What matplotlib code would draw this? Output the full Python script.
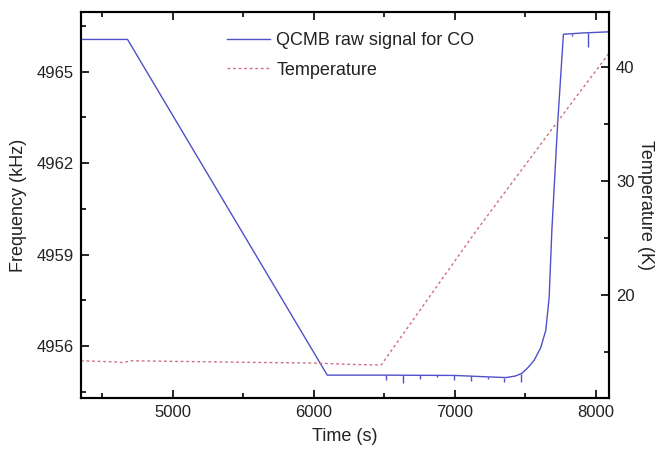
import numpy as np
import matplotlib.pyplot as plt
from matplotlib.ticker import MultipleLocator

plt.rcParams['font.family'] = ['Liberation Sans', 'DejaVu Sans']

# QCMB frequency trace (kHz) vs time (s)
freq_time = [4351, 4681, 6097, 6500, 7000, 7200, 7364, 7430, 7477, 7520,
             7564, 7610, 7646, 7670, 7689, 7730, 7771, 7900, 8094]
freq_khz = [4966.06, 4966.06, 4955.05, 4955.05, 4955.04, 4955.00, 4954.97,
            4955.02, 4955.11, 4955.30, 4955.54, 4955.95, 4956.52, 4957.60,
            4959.80, 4963.30, 4966.23, 4966.27, 4966.31]

# short downward glitches in the raw signal
spike_time = [6514, 6636, 6754, 6875, 6992, 7115, 7233, 7351, 7469, 7835, 7948]
spike_top = [4955.05, 4955.05, 4955.05, 4955.05, 4955.04, 4955.02, 4954.99,
             4954.97, 4955.09, 4966.25, 4966.27]
spike_bottom = [4954.89, 4954.79, 4954.92, 4954.98, 4954.88, 4954.86, 4954.92,
                4954.81, 4954.83, 4966.18, 4965.82]

# temperature ramp (K)
temp_time = [4351, 4600, 4650, 4700, 5000, 5500, 6000, 6300, 6479, 7151, 7736, 8094]
temp_k = [14.25, 14.15, 14.08, 14.25, 14.20, 14.12, 14.05, 13.92, 13.88,
          25.60, 35.30, 41.17]

blue = '#5050c8'
red = '#d07080'
ink = '#222222'

fig = plt.figure(figsize=(6.6, 4.51), dpi=100)
ax = fig.add_axes([0.1227, 0.1175, 0.8, 0.8559])
ax2 = ax.twinx()

l1, = ax.plot(freq_time, freq_khz, color=blue, lw=1.0)
ax.vlines(spike_time, spike_bottom, spike_top, color=blue, lw=1.0)
l2, = ax2.plot(temp_time, temp_k, color=red, lw=1.0, ls=(0, (2, 2)))

ax.set_xlim(4351, 8094)
ax.set_ylim(4954.3, 4966.96)
ax2.set_ylim(10.99, 44.79)

ax.xaxis.set_major_locator(MultipleLocator(1000))
ax.xaxis.set_minor_locator(MultipleLocator(500))
ax.yaxis.set_major_locator(MultipleLocator(3))
ax.yaxis.set_minor_locator(MultipleLocator(1.5))
ax2.yaxis.set_major_locator(MultipleLocator(10))
ax2.yaxis.set_minor_locator(MultipleLocator(5))

ax.tick_params(axis='x', which='both', direction='in', top=True, labelsize=12, pad=5)
ax.tick_params(axis='y', which='both', direction='in', labelsize=12, pad=5)
ax2.tick_params(axis='y', which='both', direction='in', labelsize=12, pad=5)
for a in (ax, ax2):
    a.tick_params(which='major', length=6, width=1.2, labelcolor=ink)
    a.tick_params(which='minor', length=3.5, width=1.2)
    for s in a.spines.values():
        s.set_linewidth(1.5)

ax.set_xlabel('Time (s)', fontsize=13, labelpad=6, color=ink)
ax.set_ylabel('Frequency (kHz)', fontsize=13, labelpad=7, color=ink)
ax2.set_ylabel('Temperature (K)', fontsize=13, rotation=270, labelpad=14, color=ink)

ax.legend([l1, l2], ['QCMB raw signal for CO', 'Temperature'],
          loc='upper left', bbox_to_anchor=(0.245, 0.99), frameon=False,
          fontsize=13, handlelength=2.4, handletextpad=0.35, labelspacing=0.7,
          labelcolor=ink)

fig.savefig('out.png', dpi=100)
